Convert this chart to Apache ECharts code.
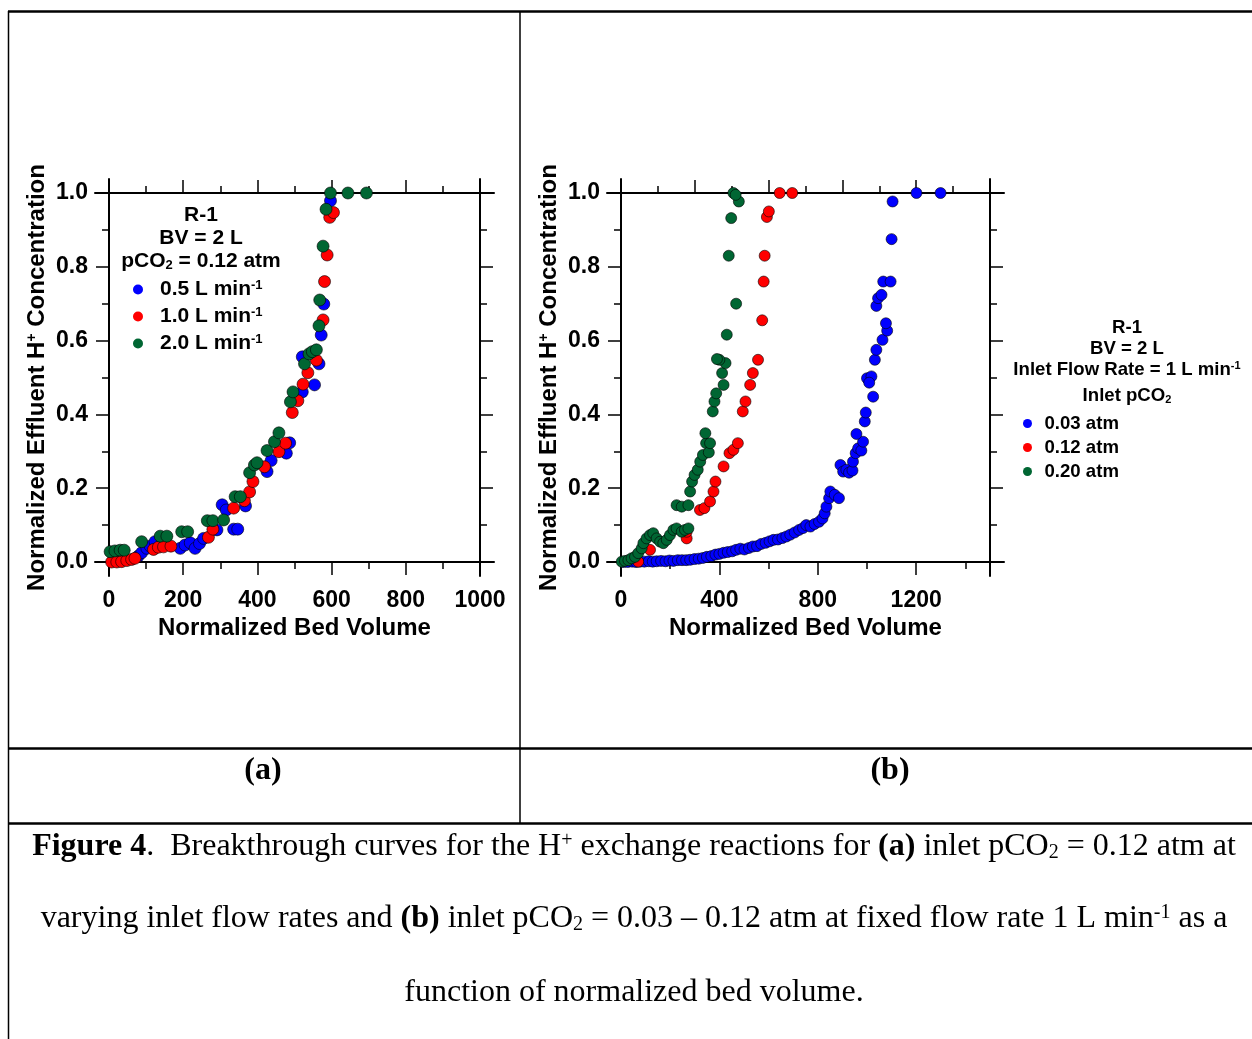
<!DOCTYPE html>
<html><head><meta charset="utf-8">
<script src="https://cdn.jsdelivr.net/npm/echarts@6/dist/echarts.min.js"></script>
<style>html,body{margin:0;padding:0;background:#fff}#c{width:1252px;height:1039px}</style>
</head><body><div id="c"></div>
<script>
// ---------- DATA ----------
// Panel (a): R-1, BV = 2 L, pCO2 = 0.12 atm, varying flow rate  [bed volume, C/C0]
const aFlow05 = [[79,0.016],[88,0.025],[102,0.037],[111,0.043],[124,0.055],[151,0.06],[192,0.037],[205,0.046],[219,0.052],[232,0.037],[244,0.05],[255,0.064],[291,0.087],[305,0.155],[316,0.141],[336,0.089],[347,0.089],[368,0.152],[426,0.245],[437,0.275],[478,0.295],[487,0.323],[521,0.461],[521,0.556],[554,0.48],[566,0.537],[572,0.615],[579,0.699],[597,0.979]];
const aFlow10 = [[7,0],[21,0],[34,0.001],[48,0.004],[61,0.007],[70,0.01],[120,0.034],[133,0.04],[147,0.041],[167,0.043],[268,0.067],[280,0.089],[336,0.146],[365,0.166],[379,0.19],[388,0.218],[419,0.258],[458,0.299],[476,0.322],[494,0.405],[509,0.437],[523,0.482],[536,0.513],[559,0.547],[577,0.656],[581,0.76],[588,0.832],[595,0.934],[605,0.947]];
const aFlow20 = [[3,0.028],[16,0.03],[30,0.032],[41,0.032],[88,0.055],[138,0.07],[156,0.07],[196,0.082],[212,0.082],[265,0.112],[280,0.112],[309,0.114],[340,0.177],[354,0.177],[379,0.242],[392,0.263],[399,0.269],[426,0.302],[446,0.326],[458,0.35],[489,0.434],[496,0.461],[527,0.537],[539,0.564],[548,0.57],[559,0.575],[566,0.64],[568,0.71],[577,0.856],[585,0.956],[597,1.0],[644,1.0],[694,1.0]];
// Panel (b): R-1, BV = 2 L, flow 1 L/min, varying inlet pCO2
const bP003 = [[10,0],[27,0],[45,0.001],[61,0],[77,0.001],[95,0.001],[113,0.002],[129,0.001],[145,0.002],[163,0.003],[181,0.002],[197,0.004],[213,0.003],[231,0.005],[248,0.005],[265,0.005],[281,0.006],[299,0.008],[316,0.009],[333,0.011],[349,0.014],[367,0.016],[384,0.02],[400,0.022],[417,0.025],[434,0.027],[452,0.029],[468,0.033],[485,0.036],[502,0.034],[520,0.038],[536,0.042],[553,0.043],[570,0.049],[588,0.052],[604,0.056],[620,0.06],[638,0.061],[656,0.065],[672,0.069],[688,0.074],[706,0.08],[724,0.087],[740,0.092],[753,0.1],[770,0.096],[787,0.103],[805,0.109],[819,0.118],[828,0.132],[835,0.15],[846,0.173],[851,0.191],[869,0.182],[886,0.173],[892,0.263],[903,0.245],[916,0.25],[927,0.242],[941,0.248],[943,0.272],[954,0.295],[964,0.308],[977,0.302],[984,0.326],[957,0.347],[991,0.381],[995,0.405],[1025,0.448],[1000,0.498],[1018,0.503],[1009,0.486],[1032,0.548],[1038,0.575],[1063,0.602],[1082,0.627],[1077,0.647],[1038,0.694],[1045,0.715],[1059,0.724],[1066,0.76],[1096,0.76],[1100,0.875],[1104,0.977],[1201,1.0],[1299,1.0]];
const bP012 = [[70,0.001],[118,0.033],[267,0.064],[267,0.082],[321,0.141],[339,0.146],[362,0.164],[376,0.191],[384,0.218],[417,0.259],[441,0.295],[457,0.304],[475,0.322],[495,0.408],[506,0.435],[525,0.48],[536,0.512],[557,0.548],[574,0.655],[580,0.76],[584,0.83],[593,0.935],[601,0.95],[645,1.0],[696,1.0]];
const bP020 = [[3,0.001],[16,0.003],[30,0.005],[43,0.01],[57,0.014],[70,0.024],[84,0.037],[91,0.051],[104,0.064],[118,0.073],[131,0.078],[145,0.064],[159,0.055],[172,0.051],[186,0.06],[199,0.073],[213,0.087],[226,0.091],[247,0.082],[260,0.087],[274,0.091],[226,0.154],[247,0.15],[274,0.154],[281,0.191],[289,0.218],[299,0.236],[312,0.25],[322,0.272],[333,0.29],[346,0.322],[357,0.297],[362,0.322],[343,0.349],[373,0.408],[380,0.435],[387,0.457],[417,0.48],[411,0.512],[425,0.539],[400,0.548],[390,0.55],[430,0.616],[468,0.7],[438,0.83],[448,0.932],[479,0.977],[457,1.0],[466,0.995]];

const aNames = ['0.5 L min', '1.0 L min', '2.0 L min'];
const bNames = ['0.03 atm', '0.12 atm', '0.20 atm'];
const aXLabels = [0, 200, 400, 600, 800, 1000];
const bXLabels = [0, 400, 800, 1200];
const yLabels = [0, 0.2, 0.4, 0.6, 0.8, 1.0];
const COLORS = ['#0000ff', '#ff0000', '#006633'];

// ---------- STYLE ----------
const SANS = "'Liberation Sans', Arial, sans-serif";
const SERIF = "'Liberation Serif', 'Times New Roman', serif";
const BLACK = '#000';
const axLine = {show: true, onZero: false, lineStyle: {color: BLACK, width: 2}};
const noLine = {show: false, onZero: false};

function tickAxis(grid, pos, min, max, interval, extra) {
  return Object.assign({
    type: 'value', gridIndex: grid, position: pos, min: min, max: max, interval: interval,
    axisLine: axLine,
    axisTick: {show: true, inside: false, length: 13, lineStyle: {color: BLACK, width: 1.5}},
    minorTick: {show: true, splitNumber: 2, length: 7, lineStyle: {color: BLACK, width: 1.5}},
    splitLine: {show: false}, minorSplitLine: {show: false},
    axisLabel: {show: false}
  }, extra || {});
}
function lineAxis(grid, pos) {
  return {type: 'value', gridIndex: grid, position: pos, min: 0, max: 1, axisLine: axLine,
    axisTick: {show: false}, axisLabel: {show: false}, splitLine: {show: false}};
}
function hiddenAxis(grid) {
  return {type: 'value', gridIndex: grid, show: false, min: 0, max: 1};
}
const labelStyle = {fontFamily: SANS, fontWeight: 'bold', fontSize: 23, color: BLACK};
const nameStyle = {fontFamily: SANS, fontWeight: 'bold', fontSize: 24, color: BLACK,
  rich: {sup: {fontFamily: SANS, fontWeight: 'bold', fontSize: 14, color: BLACK, verticalAlign: 'top'}}};
const yName = 'Normalized Effluent H{sup|+} Concentration';

function xLabelFmt(list) { return v => (list.indexOf(v) >= 0 ? String(v) : ''); }
function yLabelFmt(v) { return yLabels.some(t => Math.abs(t - v) < 1e-9) ? v.toFixed(1) : ''; }

const grids = [
  {left: 109, top: 193, width: 371, height: 369},   // 0 a main
  {left: 95,  top: 193, width: 399, height: 369},   // 1 a horiz frame lines
  {left: 109, top: 179, width: 371, height: 397},   // 2 a vert frame lines
  {left: 621, top: 193, width: 369, height: 369},   // 3 b main
  {left: 607, top: 193, width: 397, height: 369},   // 4 b horiz frame lines
  {left: 621, top: 179, width: 369, height: 397}    // 5 b vert frame lines
].map(g => Object.assign({outerBoundsMode: 'none', containLabel: false}, g));

const xAxes = [
  tickAxis(0, 'bottom', 0, 1000, 200, {
    axisLine: noLine,
    axisLabel: {show: true, margin: 27, formatter: xLabelFmt(aXLabels), ...labelStyle},
    name: 'Normalized Bed Volume', nameLocation: 'middle', nameGap: 54, nameTextStyle: nameStyle
  }),                                          // 0
  tickAxis(0, 'top', 0, 1000, 200, {axisLine: noLine}),   // 1
  lineAxis(1, 'bottom'),                       // 2
  lineAxis(1, 'top'),                          // 3
  hiddenAxis(2),                               // 4
  tickAxis(3, 'bottom', 0, 1500, 400, {
    axisLine: noLine, minorTick: {show: false},
    axisLabel: {show: true, margin: 27, formatter: xLabelFmt(bXLabels), ...labelStyle},
    name: 'Normalized Bed Volume', nameLocation: 'middle', nameGap: 54, nameTextStyle: nameStyle
  }),                                          // 5
  tickAxis(3, 'bottom', 0, 1500, 200, {axisLine: noLine, minorTick: {show: false},
    axisTick: {show: true, inside: false, length: 7, lineStyle: {color: BLACK, width: 1.5}}}), // 6
  tickAxis(3, 'top', 0, 1500, 300, {axisLine: noLine}),   // 7
  lineAxis(4, 'bottom'),                       // 8
  lineAxis(4, 'top'),                          // 9
  hiddenAxis(5)                                // 10
];
const yAxes = [
  tickAxis(0, 'left', 0, 1, 0.2, {
    axisLine: noLine,
    axisLabel: {show: true, margin: 21, formatter: yLabelFmt, ...labelStyle},
    name: yName, nameLocation: 'middle', nameGap: 60, nameTextStyle: nameStyle
  }),                                          // 0
  tickAxis(0, 'right', 0, 1, 0.2, {axisLine: noLine}),    // 1
  hiddenAxis(1),                               // 2
  lineAxis(2, 'left'),                         // 3
  lineAxis(2, 'right'),                        // 4
  tickAxis(3, 'left', 0, 1, 0.2, {
    axisLine: noLine,
    axisLabel: {show: true, margin: 21, formatter: yLabelFmt, ...labelStyle},
    name: yName, nameLocation: 'middle', nameGap: 60, nameTextStyle: nameStyle
  }),                                          // 5
  tickAxis(3, 'right', 0, 1, 0.2, {axisLine: noLine}),    // 6
  hiddenAxis(4),                               // 7
  lineAxis(5, 'left'),                         // 8
  lineAxis(5, 'right')                         // 9
];

function scatter(name, data, xi, yi, color, size) {
  return {type: 'scatter', name: name, data: data, xAxisIndex: xi, yAxisIndex: yi,
    symbol: 'circle', symbolSize: size, clip: false,
    itemStyle: {color: color, borderColor: BLACK, borderWidth: 0.6, opacity: 1},
    emphasis: {disabled: true}};
}
const series = [
  scatter(aNames[0], aFlow05, 0, 0, COLORS[0], 12),
  scatter(aNames[1], aFlow10, 0, 0, COLORS[1], 12),
  scatter(aNames[2], aFlow20, 0, 0, COLORS[2], 12),
  scatter(bNames[0], bP003, 5, 5, COLORS[0], 11),
  scatter(bNames[1], bP012, 5, 5, COLORS[1], 11),
  scatter(bNames[2], bP020, 5, 5, COLORS[2], 11)
];

const supSub = (fs) => ({
  sup: {fontFamily: SANS, fontWeight: 'bold', fontSize: Math.round(fs * 0.6), fill: BLACK, color: BLACK, verticalAlign: 'top'},
  sub: {fontFamily: SANS, fontWeight: 'bold', fontSize: Math.round(fs * 0.6), fill: BLACK, color: BLACK, verticalAlign: 'bottom'}
});
const legends = [
  {data: aNames, orient: 'vertical', left: 133, top: 279, padding: 0, itemWidth: 34, itemHeight: 10, itemGap: 6,
   icon: 'circle', selectedMode: false, itemStyle: {borderWidth: 0},
   formatter: n => '{t|' + n + '}{sup|-1}',
   textStyle: {fontFamily: SANS, fontWeight: 'bold', fontSize: 21, color: BLACK,
     rich: Object.assign({t: {fontFamily: SANS, fontWeight: 'bold', fontSize: 21, lineHeight: 21, color: BLACK}}, supSub(21))}},
  {data: bNames, orient: 'vertical', left: 1023, top: 414, padding: 0, itemWidth: 24, itemHeight: 9, itemGap: 5,
   icon: 'circle', selectedMode: false, itemStyle: {borderWidth: 0},
   textStyle: {fontFamily: SANS, fontWeight: 'bold', fontSize: 18.6, lineHeight: 18.6, color: BLACK}}
];

function txt(x, y, text, font, fs, bold, align) {
  return {type: 'text', x: x, y: y, silent: true, z: 100,
    style: {text: text, fontFamily: font, fontSize: fs, fontWeight: bold ? 'bold' : 'normal',
      fill: BLACK, align: align || 'center', verticalAlign: 'middle',
      rich: font === SANS ? supSub(fs) : {
        b: {fontFamily: SERIF, fontSize: fs, fontWeight: 'bold', fill: BLACK},
        sup: {fontFamily: SERIF, fontSize: Math.round(fs * 0.62), fill: BLACK, verticalAlign: 'top'},
        sub: {fontFamily: SERIF, fontSize: Math.round(fs * 0.62), fill: BLACK, verticalAlign: 'bottom'}
      }}};
}
function ln(x1, y1, x2, y2, w) {
  return {type: 'line', silent: true, shape: {x1: x1, y1: y1, x2: x2, y2: y2}, style: {stroke: BLACK, lineWidth: w}};
}
const graphic = [
  // table frame
  ln(8, 11.5, 1252, 11.5, 2.5),
  ln(8.5, 11, 8.5, 1039, 1.5),
  ln(520, 11, 520, 823, 1.5),
  ln(8, 748.5, 1252, 748.5, 2.5),
  ln(8, 823.5, 1252, 823.5, 2.5),
  // panel (a) annotation
  txt(201, 215, 'R-1', SANS, 21, true),
  txt(201, 238, 'BV = 2 L', SANS, 21, true),
  txt(201, 261, 'pCO{sub|2} = 0.12 atm', SANS, 21, true),
  // panel (b) annotation
  txt(1127, 328, 'R-1', SANS, 18.6, true),
  txt(1127, 349, 'BV = 2 L', SANS, 18.6, true),
  txt(1127, 370, 'Inlet Flow Rate = 1 L min{sup|-1}', SANS, 18.6, true),
  txt(1127, 396, 'Inlet pCO{sub|2}', SANS, 18.6, true),
  // panel labels and caption
  txt(263, 771, '(a)', SERIF, 32, true),
  txt(890, 771, '(b)', SERIF, 32, true),
  txt(634, 847, '{b|Figure 4}.  Breakthrough curves for the H{sup|+} exchange reactions for {b|(a)} inlet pCO{sub|2} = 0.12 atm at', SERIF, 32, false),
  txt(634, 919, 'varying inlet flow rates and {b|(b)} inlet pCO{sub|2} = 0.03 \u2013 0.12 atm at fixed flow rate 1 L min{sup|-1} as a', SERIF, 32, false),
  txt(634, 993, 'function of normalized bed volume.', SERIF, 32, false)
];

const chart = echarts.init(document.getElementById('c'), null, {renderer: 'canvas'});
chart.setOption({
  backgroundColor: '#fff',
  animation: false,
  grid: grids,
  xAxis: xAxes,
  yAxis: yAxes,
  legend: legends,
  series: series,
  graphic: graphic
});
</script></body></html>
